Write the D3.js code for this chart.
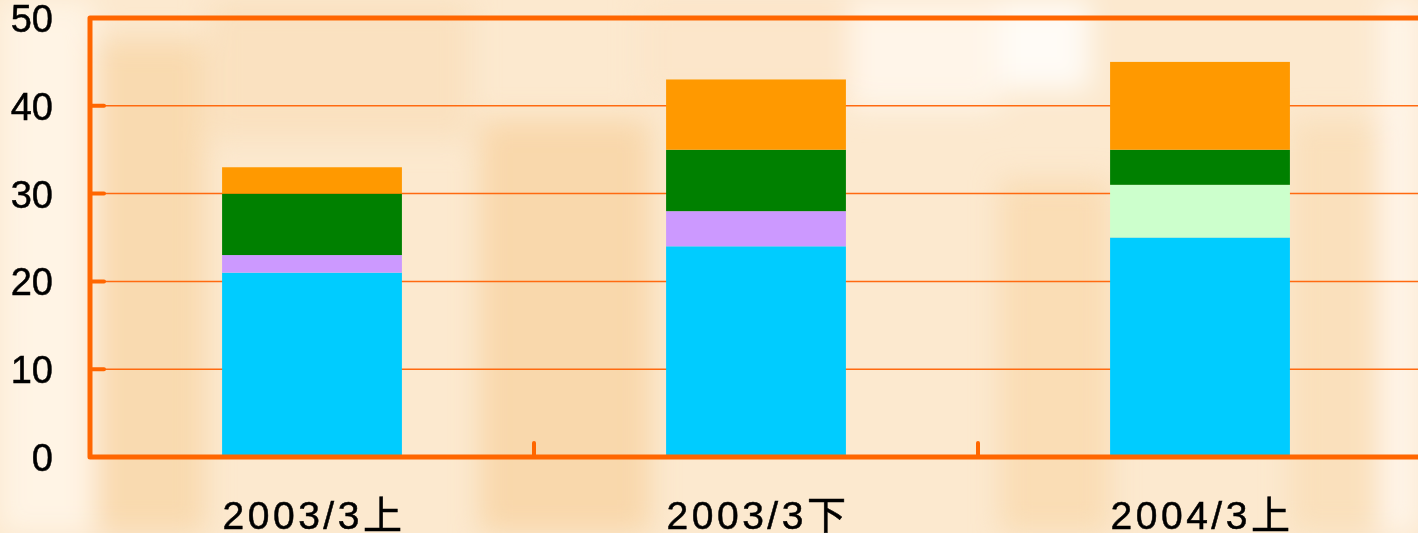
<!DOCTYPE html>
<html>
<head>
<meta charset="utf-8">
<script src="https://cdnjs.cloudflare.com/ajax/libs/d3/7.8.5/d3.min.js"></script>
<style>
  html, body { margin: 0; padding: 0; background: #fce9cf; overflow: hidden; }
  text { font-family: "Liberation Sans", Arial, "Noto Sans CJK SC", sans-serif; fill: #000; stroke: #000; stroke-width: 0.5px; }
</style>
</head>
<body>
<div id="chart"></div>
<script>
// categories + stacked series, bottom to top
var categories = ["2003/3上", "2003/3下", "2004/3上"];
var seriesNames = ["cyan", "purple", "lightgreen", "green", "orange"];
var cyanVals = [21, 24, 25];
var purpleVals = [2, 4, 0];
var lightGreenVals = [0, 0, 6];
var greenVals = [7, 7, 4];
var orangeVals = [3, 8, 10];
var yTicks = [0, 10, 20, 30, 40, 50];

var colors = {
  cyan: "#00ccff",
  purple: "#cc99ff",
  lightgreen: "#ccffcc",
  green: "#008000",
  orange: "#ff9900"
};

// faint decorative backdrop (not data)
var backdrop = [
  [0, 0, 95, 533, "#fff6ea"],
  [95, 40, 110, 493, "#f8d6a8"],
  [210, 0, 260, 140, "#f9dfbb"],
  [480, 120, 170, 413, "#f8d3a2"],
  [640, 0, 210, 100, "#fbe5c8"],
  [850, 0, 150, 110, "#fff8ef"],
  [1000, 0, 90, 90, "#ffffff"],
  [1000, 180, 110, 353, "#f9d9ae"],
  [1290, 120, 90, 413, "#f9ddb6"],
  [1380, 0, 38, 533, "#fff8f0"]
];

var W = 1418, H = 533;
var margin = {top: 18, right: -4, bottom: 76, left: 90};
var width = W - margin.left - margin.right;
var height = H - margin.top - margin.bottom;

var svg = d3.select("#chart").append("svg")
  .attr("width", W)
  .attr("height", H);

var defs = svg.append("defs");
defs.append("filter").attr("id", "soft")
  .attr("x", "-20%").attr("y", "-20%").attr("width", "140%").attr("height", "140%")
  .append("feGaussianBlur").attr("stdDeviation", 14);

svg.append("g").attr("filter", "url(#soft)")
  .selectAll("rect").data(backdrop).enter().append("rect")
  .attr("x", function(d) { return d[0]; })
  .attr("y", function(d) { return d[1]; })
  .attr("width", function(d) { return d[2]; })
  .attr("height", function(d) { return d[3]; })
  .attr("fill", function(d) { return d[4]; })
  .attr("opacity", 0.8);

var g = svg.append("g")
  .attr("transform", "translate(" + margin.left + "," + margin.top + ")");

var x = d3.scaleBand().domain(categories).range([0, width]).padding(0);
var y = d3.scaleLinear().domain([0, 50]).range([height, 0]);
var barW = x.bandwidth() * 0.405;

var table = categories.map(function(c, i) {
  return {
    cat: c,
    cyan: cyanVals[i],
    purple: purpleVals[i],
    lightgreen: lightGreenVals[i],
    green: greenVals[i],
    orange: orangeVals[i]
  };
});
var stacked = d3.stack().keys(seriesNames)(table);

// gridlines
g.selectAll(".grid").data(yTicks.slice(1, -1)).enter().append("line")
  .attr("x1", 0).attr("x2", width)
  .attr("y1", function(d) { return y(d); })
  .attr("y2", function(d) { return y(d); })
  .attr("stroke", "#ff6a10")
  .attr("stroke-width", 1.5);

// bars
g.selectAll(".layer").data(stacked).enter().append("g")
  .attr("fill", function(d) { return colors[d.key]; })
  .selectAll("rect").data(function(d) { return d.filter(function(p) { return p[1] > p[0]; }); })
  .enter().append("rect")
  .attr("x", function(d) { return x(d.data.cat) + (x.bandwidth() - barW) / 2; })
  .attr("y", function(d) { return y(d[1]); })
  .attr("width", barW)
  .attr("height", function(d) { return y(d[0]) - y(d[1]); });

// inner tick stubs on the value axis
g.selectAll(".ystub").data(yTicks.slice(1, -1)).enter().append("line")
  .attr("x1", 0).attr("x2", 14)
  .attr("y1", function(d) { return y(d); })
  .attr("y2", function(d) { return y(d); })
  .attr("stroke", "#ff6600")
  .attr("stroke-width", 4)
  .attr("stroke-linecap", "round");

// category dividers on the bottom axis
g.selectAll(".xstub").data(categories.slice(1)).enter().append("line")
  .attr("x1", function(d) { return x(d); })
  .attr("x2", function(d) { return x(d); })
  .attr("y1", height - 14).attr("y2", height)
  .attr("stroke", "#ff6600")
  .attr("stroke-width", 4)
  .attr("stroke-linecap", "round");

// frame: top, left, bottom
g.append("path")
  .attr("d", "M" + width + "," + y(50) + "H0V" + y(0) + "H" + width)
  .attr("fill", "none")
  .attr("stroke", "#ff6600")
  .attr("stroke-width", 5)
  .attr("stroke-linejoin", "round");

// y labels
g.selectAll(".ylab").data(yTicks).enter().append("text")
  .attr("x", -37)
  .attr("y", function(d) { return y(d) + 4; })
  .attr("text-anchor", "end")
  .attr("dominant-baseline", "middle")
  .style("font-size", "38px")
  .text(function(d) { return d; });

// x labels
g.selectAll(".xlab").data(categories).enter().append("text")
  .attr("x", function(d) { return x(d) + x.bandwidth() / 2 + 2; })
  .attr("y", height + 72)
  .attr("text-anchor", "middle")
  .style("font-size", "39px")
  .style("letter-spacing", "3.5px")
  .text(function(d) { return d; });
</script>
</body>
</html>
